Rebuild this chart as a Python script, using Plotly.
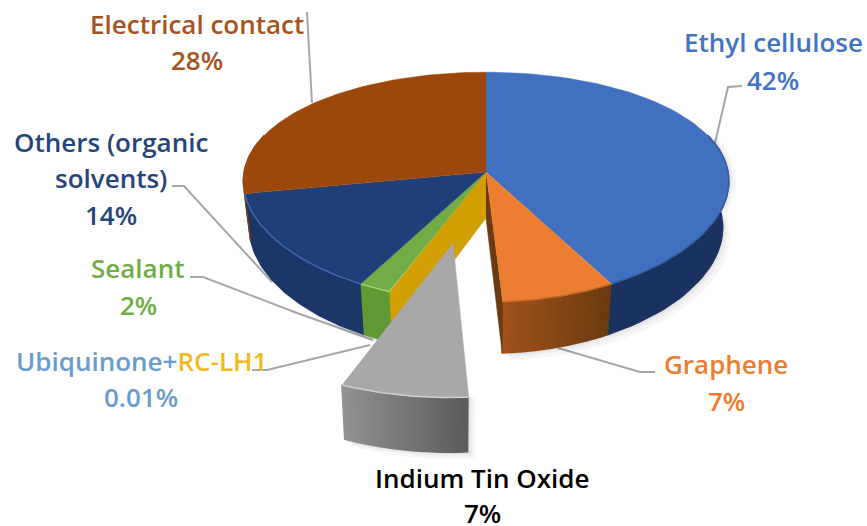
import numpy as np
import plotly.graph_objects as go

labels = ["Ethyl cellulose", "Graphene", "Indium Tin Oxide", "Ubiquinone+RC-LH1",
          "Sealant", "Others (organic solvents)", "Electrical contact"]
values = [42, 7, 7, 0.01, 2, 14, 28]
percent_text = ["42%", "7%", "7%", "0.01%", "2%", "14%", "28%"]

top_colors = ["#4070BF", "#ED7D31", "#A8A8A8", "#D19F02", "#70AD47", "#1F3F78", "#9C480C"]
side_left = ["#1A3260", "#A0521C", "#929292", "#D19F02", "#5F9A35", "#1B3768", "#7A380A"]
side_right = ["#1A3260", "#6A3A10", "#5C5C5C", "#D19F02", "#5F9A35", "#1B3768", "#7A380A"]
rim_colors = ["#35609F", "#C96A28", "#D0D0D0", "#E8B010", "#9CDB6A", "#4068AC", "#9C480C"]

# where the text goes: (x, y) of each line in page pixels
text_lines = [
    ("Electrical contact", 197, 24, "#A5531E"),
    ("28%", 197, 60, "#A5531E"),
    ("Ethyl cellulose", 773, 42, "#4472C4"),
    ("42%", 773, 80, "#4472C4"),
    ("Others (organic", 111, 142, "#264478"),
    ("solvents)", 111, 178, "#264478"),
    ("14%", 111, 215, "#264478"),
    ("Sealant", 138, 268, "#70AD47"),
    ("2%", 138, 305, "#70AD47"),
    ("Ubiquinone+<span style='color:#F5B91E'>RC-LH1</span>", 141, 361, "#6A9CCC"),
    ("0.01%", 141, 397, "#6A9CCC"),
    ("Graphene", 726, 364, "#ED7D31"),
    ("7%", 726, 401, "#ED7D31"),
    ("Indium Tin Oxide", 482, 478, "#000000"),
    ("7%", 482, 513, "#000000"),
]

leaders = [
    ([307, 312], [12, 103]),
    ([742, 728, 715], [86, 87, 143]),
    ([172, 184, 272], [186, 186, 282]),
    ([190, 203, 297, 373], [277, 277, 313, 340]),
    ([252, 267, 370], [370, 370, 345]),
    ([558, 640, 655], [348, 372, 372]),
]

CX, CY = 486, 172
R, RK = 242, 113
PX, PY = 0.08, 0.132
DEPTH = 46
BOTTOM_SCALE = 0.975
EXPLODE_SLICE = 2
EXPLODE_U, EXPLODE_V = -0.13, 0.58
EXPLODE_WIDE = 1.07


def top_point(th, r=1.0, du=0.0, dv=0.0, wide=1.0):
    u = r * np.sin(th) * wide + du
    v = -r * np.cos(th) + dv
    return CX + R * u / (1 - PX * v), CY + RK * v / (1 - PY * v), v


def bottom_point(th, r=1.0, du=0.0, dv=0.0, wide=1.0):
    x, y, v = top_point(th, r, du, dv, wide)
    cx0 = top_point(0, 0, du, dv)[0]
    return cx0 + (x - cx0) * BOTTOM_SCALE, y + DEPTH / (1 - 0.1 * v)


def mix(c1, c2, t):
    a = [int(c1[i:i + 2], 16) for i in (1, 3, 5)]
    b = [int(c2[i:i + 2], 16) for i in (1, 3, 5)]
    return "rgb(%d,%d,%d)" % tuple(a[i] + (b[i] - a[i]) * t for i in range(3))


fig = go.Figure()


def poly(xs, ys, color, width=0.5):
    fig.add_trace(go.Scatter(x=xs, y=ys, mode="lines", fill="toself", fillcolor=color,
                             line=dict(color=color, width=width), hoverinfo="skip", showlegend=False))


def draw_shadow(a0, a1, du=0.0, dv=0.0, wide=1.0, spread=(2, 4, 7)):
    # soft grey halo under the rim, stacked faint copies
    a0, a1 = max(a0, np.radians(70)), min(a1, np.radians(259.9))
    if a1 <= a0:
        return
    th = np.linspace(a0, a1, 40)
    tx, ty, _ = top_point(th, 1.0, du, dv, wide)
    bx, by = bottom_point(th, 1.0, du, dv, wide)
    for s in spread:
        fig.add_trace(go.Scatter(x=list(tx + s) + list(bx[::-1] + s), y=list(ty) + list(by[::-1] + s),
                                 mode="none", fill="toself", fillcolor="rgba(0,0,0,0.035)",
                                 hoverinfo="skip", showlegend=False))


def draw_side(i, a0, a1, du=0.0, dv=0.0, wide=1.0):
    # only the front part of the rim can be seen
    a0, a1 = max(a0, np.radians(70)), min(a1, np.radians(259.9))
    if a1 <= a0:
        return
    # flat colour when the two ends agree, otherwise strips for the gradient
    steps = 1 if side_left[i] == side_right[i] else 24
    edges = np.linspace(a0, a1, steps + 1)
    for k in range(steps):
        th = np.linspace(edges[k], edges[k + 1], 40 if steps == 1 else 4)
        tx, ty, _ = top_point(th, 1.0, du, dv, wide)
        bx, by = bottom_point(th, 1.0, du, dv, wide)
        # angles run clockwise, so the strips go from right to left on the front
        poly(list(tx) + list(bx[::-1]), list(ty) + list(by[::-1]),
             mix(side_right[i], side_left[i], k / max(steps - 1, 1)), 1.5)


def draw_wall(th, color):
    ax, ay, _ = top_point(th, 0.0)
    rx, ry, _ = top_point(th)
    bax, bay = bottom_point(th, 0.0)
    brx, bry = bottom_point(th)
    poly([ax, rx, brx, bax], [ay, ry, bry, bay], color)


def draw_top(i, a0, a1, du=0.0, dv=0.0, wide=1.0):
    th = np.linspace(a0, a1, 80)
    x, y, _ = top_point(th, 1.0, du, dv, wide)
    ax, ay, _ = top_point(0.0, 0.0, du, dv)
    poly([ax] + list(x), [ay] + list(y), top_colors[i])
    front = th[(th > np.radians(70)) & (th < np.radians(290))]
    if len(front) > 1:
        fx, fy, _ = top_point(front, 1.0, du, dv, wide)
        fig.add_trace(go.Scatter(x=fx, y=fy, mode="lines", line=dict(color=rim_colors[i], width=1.5),
                                 hoverinfo="skip", showlegend=False))


bounds = np.radians(np.concatenate([[0], np.cumsum(values)]) / sum(values) * 360)

for xs, ys in leaders:
    fig.add_trace(go.Scatter(x=xs, y=ys, mode="lines", line=dict(color="#A6A6A6", width=2),
                             hoverinfo="skip", showlegend=False))

for i in range(len(values)):
    if i != EXPLODE_SLICE:
        draw_shadow(bounds[i], bounds[i + 1])
for i in range(len(values)):
    if i != EXPLODE_SLICE:
        draw_side(i, bounds[i], bounds[i + 1])
draw_wall(bounds[EXPLODE_SLICE], "#6B3A10")
draw_wall(bounds[EXPLODE_SLICE + 1], top_colors[3])
for i in range(len(values)):
    if i != EXPLODE_SLICE:
        draw_top(i, bounds[i], bounds[i + 1])

a0, a1 = bounds[EXPLODE_SLICE], bounds[EXPLODE_SLICE + 1]
draw_shadow(a0, a1, EXPLODE_U, EXPLODE_V, EXPLODE_WIDE)
draw_side(EXPLODE_SLICE, a0, a1, EXPLODE_U, EXPLODE_V, EXPLODE_WIDE)
draw_top(EXPLODE_SLICE, a0, a1, EXPLODE_U, EXPLODE_V, EXPLODE_WIDE)

for text, x, y, color in text_lines:
    fig.add_annotation(x=x, y=y, text=text, showarrow=False, xanchor="center", yanchor="middle",
                       font=dict(family="Open Sans", size=26, color=color, weight=600))

fig.update_layout(
    width=867, height=526,
    margin=dict(l=0, r=0, t=0, b=0),
    paper_bgcolor="white", plot_bgcolor="white",
    xaxis=dict(range=[0, 867], visible=False, fixedrange=True),
    yaxis=dict(range=[526, 0], visible=False, fixedrange=True),
    showlegend=False,
)

fig.write_html("out.html", config={"displayModeBar": False},
               post_script="document.body.style.margin = '0';")
